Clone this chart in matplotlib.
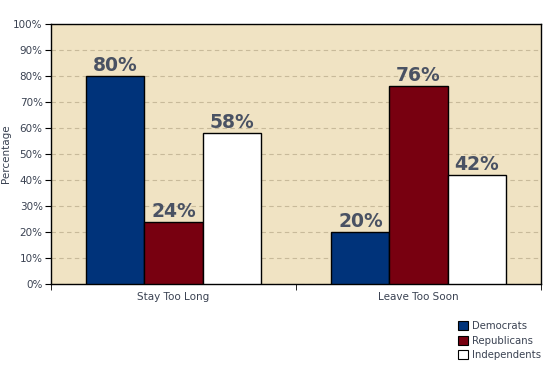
import matplotlib
matplotlib.use("Agg")
import matplotlib.pyplot as plt
from matplotlib.patches import Patch
import numpy as np

categories = ["Stay Too Long", "Leave Too Soon"]
series = ["Democrats", "Republicans", "Independents"]
democrats = [80, 20]
republicans = [24, 76]
independents = [58, 42]
yticks = [0, 10, 20, 30, 40, 50, 60, 70, 80, 90, 100]

colors = ["#00337A", "#780010", "#FFFFFF"]
txt = "#3a4252"

fig = plt.figure(figsize=(5.45, 3.67), dpi=100)
ax = fig.add_axes([51/545, 1-284/367, 490/545, 260/367])
ax.set_facecolor("#F0E3C3")

x = np.arange(len(categories))
w = 0.237
vals = [democrats, republicans, independents]
for i, (name, v) in enumerate(zip(series, vals)):
    bars = ax.bar(x + (i-1)*w, v, w, color=colors[i], edgecolor="black", linewidth=1, zorder=3, label=name)
    for b, val in zip(bars, v):
        ax.text(b.get_x()+b.get_width()/2, val+0.4, f"{val}%", ha="center", va="bottom",
                fontsize=13.5, fontweight="heavy", color="#4a5263", zorder=4)

ax.set_xlim(-0.5, 1.5)
ax.set_ylim(0, 100)
ax.set_yticks(yticks)
ax.set_yticklabels([f"{t}%" for t in yticks], fontsize=7.5, color=txt)
ax.set_xticks(x)
ax.set_xticklabels(categories, fontsize=7.5, color=txt)
ax.tick_params(axis="x", length=0, pad=6)
ax.set_xticks([-0.5, 0.5, 1.5], minor=True)
ax.tick_params(axis="x", which="minor", length=4)
ax.tick_params(axis="y", length=4, pad=2)
ax.yaxis.grid(True, linestyle=(0, (4, 3)), color="#C8BA9A", linewidth=0.8, zorder=0)
ax.set_axisbelow(True)
for s in ax.spines.values():
    s.set_color("black")
    s.set_linewidth(1)
ax.set_ylabel("Percentage", fontsize=7.5, color=txt)
ax.yaxis.set_label_coords(-0.081, 0.5)

handles = [Patch(facecolor=c, edgecolor="black", linewidth=0.8) for c in colors]
fig.legend(handles, series, loc="upper left", bbox_to_anchor=(458/545, 1-321/367),
           frameon=False, fontsize=7.3, handlelength=1.0, handleheight=1.0,
           handletextpad=0.4, labelspacing=0.45, borderaxespad=0, borderpad=0,
           labelcolor=txt)

fig.savefig("out.png", dpi=100, facecolor="white")
